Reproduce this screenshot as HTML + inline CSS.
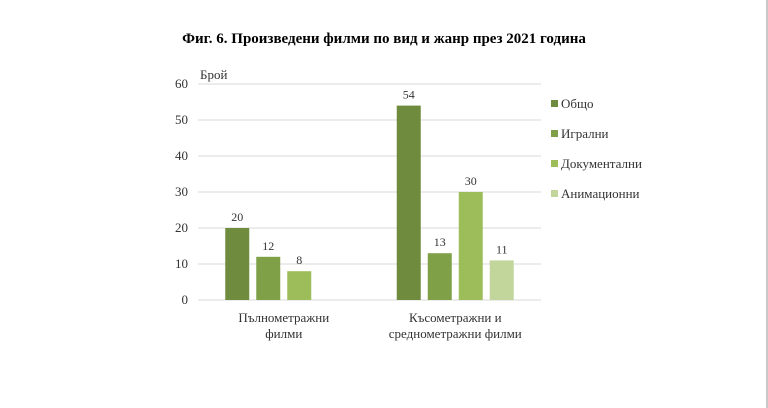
<!DOCTYPE html>
<html><head><meta charset="utf-8"><style>
html,body{margin:0;padding:0;background:#fff;}
svg{display:block;font-family:"Liberation Serif","DejaVu Serif",serif;}
</style></head><body>
<svg id="chart" width="768" height="408" viewBox="0 0 768 408">
<rect x="766" y="0" width="2" height="408" fill="#c8c8c8"/>
<text x="384" y="43" text-anchor="middle" font-size="15" font-weight="bold" fill="#000">Фиг. 6. Произведени филми по вид и жанр през 2021 година</text>
<text x="200" y="79" font-size="13" fill="#333">Брой</text>
<g id="grid"></g><g id="bars"></g><g id="legend"></g>
</svg>
<script>
const categories=[["Пълнометражни","филми"],["Късометражни и","среднометражни филми"]];
const seriesNames=["Общо","Игрални","Документални","Анимационни"];
const seriesColors=["#6f8c3e","#80a048","#9dbd5a","#c2d69c"];
const values=[[20,54],[12,13],[8,30],[null,11]];
const yTicks=[0,10,20,30,40,50,60];
const NS="http://www.w3.org/2000/svg";
const x0=198,x1=541,y0=300,yMax=60,yTop=84;
const y=v=>y0-(v/yMax)*(y0-yTop);
function mk(t,a,p){const e=document.createElementNS(NS,t);for(const k in a)e.setAttribute(k,a[k]);p.appendChild(e);return e;}
const grid=document.getElementById('grid'),bars=document.getElementById('bars'),leg=document.getElementById('legend');
yTicks.forEach(t=>{
 const l=mk('line',{x1:x0,x2:x1,y1:y(t),y2:y(t),stroke:'#d9d9d9','stroke-width':1},grid);
 
 
 const tx=mk('text',{x:188,y:y(t)+4,'text-anchor':'end','font-size':13,fill:'#333'},grid);
 tx.textContent=t;
 
 
});
const catW=(x1-x0)/categories.length,bw=24,step=31,n=seriesNames.length;
categories.forEach((c,ci)=>{
 const cx=x0+catW*(ci+0.5);
 const start=cx-(n*step-(step-bw))/2;
 values.forEach((s,si)=>{
  const v=s[ci];if(v==null)return;const bx=start+si*step;
  const r=mk('rect',{x:bx,y:y(v),width:bw,height:y0-y(v),fill:seriesColors[si]},bars);
  
  
  const t=mk('text',{x:bx+bw/2,y:y(v)-7,'text-anchor':'middle','font-size':12,fill:'#333'},bars);
  t.textContent=v;
  
  
 });
 c.forEach((line,li)=>{
  const t=mk('text',{x:cx,y:322+li*16,'text-anchor':'middle','font-size':13,fill:'#333'},bars);
  t.textContent=line;
  
  
 });
});
seriesNames.forEach((nm,i)=>{
 const yy=104+i*30;
 const r=mk('rect',{x:551,y:yy-4,width:7,height:7,fill:seriesColors[i]},leg);
 
 
 const t=mk('text',{x:561,y:yy+4,'font-size':13,fill:'#333'},leg);
 t.textContent=nm;
 
 
});
</script>
</body></html>
